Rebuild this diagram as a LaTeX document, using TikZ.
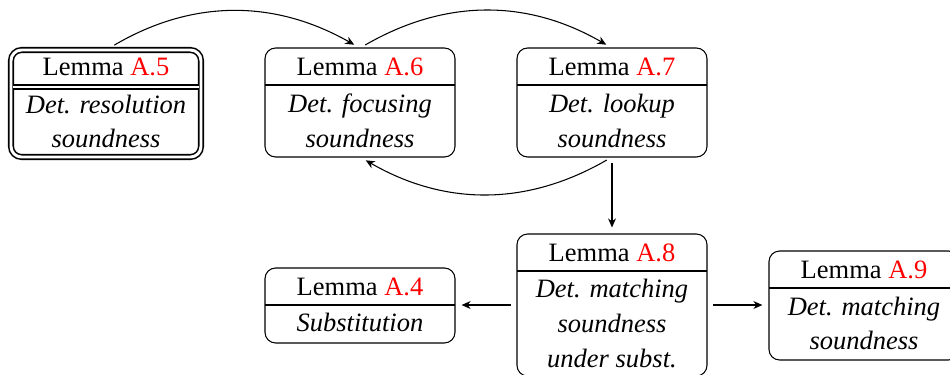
\documentclass[tikz,border=0pt]{standalone}
\usepackage{fontspec}
\setmainfont{Liberation Serif}
\usetikzlibrary{arrows.meta}
\begin{document}
\begin{tikzpicture}[x=0.37736pt,y=0.37736pt,
  box/.style={draw, rounded corners=4pt, line width=0.4pt, minimum width=71.70pt, inner sep=0pt, outer sep=0pt},
  dbox/.style={box, double, line width=0.6pt, double distance=1.1pt},
  ttl/.style={anchor=base, font=\fontsize{10pt}{13.13pt}\selectfont, inner sep=0pt},
  body/.style={anchor=base, align=center, font=\fontsize{10pt}{13.13pt}\selectfont\itshape, inner sep=0pt},
  link/.style={-{Stealth[length=3.4pt,width=3pt]}, line width=0.4pt, shorten <=2.3pt, shorten >=2.5pt},
  divider/.style={line width=0.4pt},
  ddivider/.style={double, line width=0.6pt, double distance=1.1pt, shorten <=0.85pt, shorten >=0.85pt}
]
\useasboundingbox (0,0) rectangle (950,-374);

% boxes
\node[dbox, minimum height=40.38pt] (a5) at (106,-103.5) {};
\node[box, minimum height=41.13pt] (a6) at (360,-102.5) {};
\node[box, minimum height=41.13pt] (a7) at (612,-102.5) {};
\node[box, minimum height=53.58pt] (a8) at (612,-305) {};
\node[box, minimum height=28.30pt] (a4) at (360,-305.5) {};
\node[box, minimum height=41.13pt] (a9) at (864,-305.5) {};

% dividers
\draw[ddivider] (a5.west |- 0,-87) -- (a5.east |- 0,-87);
\draw[divider] (a6.west |- 0,-85) -- (a6.east |- 0,-85);
\draw[divider] (a7.west |- 0,-85) -- (a7.east |- 0,-85);
\draw[divider] (a8.west |- 0,-271) -- (a8.east |- 0,-271);
\draw[divider] (a4.west |- 0,-305) -- (a4.east |- 0,-305);
\draw[divider] (a9.west |- 0,-288) -- (a9.east |- 0,-288);

% texts (body nodes anchored at the baseline of their last line)
\node[ttl] (t5) at (106,-75.5) {Lemma \textcolor{red}{A.5}};
\node[body] (b5) at (106,-147.8) {Det. resolution\\soundness};
\node[ttl] (t6) at (360,-75.7) {Lemma \textcolor{red}{A.6}};
\node[body] (b6) at (360,-147.5) {Det. focusing\\soundness};
\node[ttl] (t7) at (612,-75.7) {Lemma \textcolor{red}{A.7}};
\node[body] (b7) at (612,-147.5) {Det. lookup\\soundness};
\node[ttl] (t8) at (612,-261.7) {Lemma \textcolor{red}{A.8}};
\node[body] (b8) at (612,-367.1) {Det. matching\\soundness\\under subst.};
\node[ttl] (t4) at (360,-295.7) {Lemma \textcolor{red}{A.4}};
\node[body] (b4) at (360,-331.7) {Substitution};
\node[ttl] (t9) at (864,-278.7) {Lemma \textcolor{red}{A.9}};
\node[body] (b9) at (864,-349.8) {Det. matching\\soundness};

% connectors
\draw[link, shorten <=3.6pt] (a5.north) to[bend left=30] (a6.north);
\draw[link] (a6.north) to[bend left=30] (a7.north);
\draw[link] (a7.south) to[bend left=30] (a6.south);
\draw[link] (a7.south) -- (a8.north);
\draw[link] (a8.west) -- (a8.west -| a4.east);
\draw[link] (a8.east) -- (a8.east -| a9.west);
\end{tikzpicture}
\end{document}
